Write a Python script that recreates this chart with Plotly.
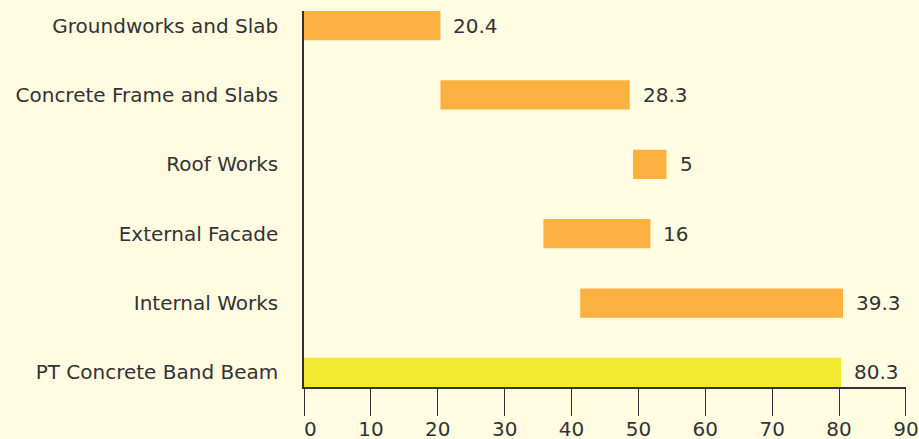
import plotly.graph_objects as go

categories = ["Groundworks and Slab", "Concrete Frame and Slabs", "Roof Works",
              "External Facade", "Internal Works", "PT Concrete Band Beam"]
durations = [20.4, 28.3, 5, 16, 39.3, 80.3]
starts = [0, 20.4, 49.2, 35.8, 41.3, 0]
colors = ["#FBB040", "#FBB040", "#FBB040", "#FBB040", "#FBB040", "#F3EA2F"]
x_ticks = [0, 10, 20, 30, 40, 50, 60, 70, 80, 90]
x_tick_labels = ["\u00a0\u00a00", "10", "20", "30", "40", "50", "60", "70", "80", "90"]

FONT = "DejaVu Sans"
TXT = "#333333"
FS = 20

fig = go.Figure(go.Bar(
    y=categories, x=durations, base=starts, orientation="h",
    marker=dict(color=colors, line=dict(width=0)), width=0.42,
    hoverinfo="skip",
))

for c, s, d in zip(categories, starts, durations):
    fig.add_annotation(x=s + d, y=c, text=f"{d:g}", showarrow=False,
                       xanchor="left", xshift=11,
                       font=dict(family=FONT, size=FS, color=TXT))

fig.update_layout(
    width=919, height=439,
    margin=dict(l=304, r=13, t=11, b=52),
    paper_bgcolor="#FFFCE2", plot_bgcolor="#FFFCE2",
    showlegend=False,
)
fig.update_xaxes(range=[0, 90.01], tickvals=x_ticks, ticktext=x_tick_labels,
                 showgrid=False, zeroline=False, automargin=False,
                 showline=True, linecolor=TXT, linewidth=1.5,
                 ticks="outside", ticklen=27, tickwidth=1.2, tickcolor=TXT,
                 ticklabelstandoff=-4,
                 tickfont=dict(family=FONT, size=FS, color=TXT))
fig.update_yaxes(categoryorder="array", categoryarray=categories,
                 range=[5.21, -0.21], showgrid=False, zeroline=False,
                 automargin=False,
                 showline=True, linecolor=TXT, linewidth=1.5,
                 ticks="outside", ticklen=20, tickcolor="rgba(0,0,0,0)",
                 tickfont=dict(family=FONT, size=FS, color=TXT))

fig.write_html("out.html", config={"displayModeBar": False},
               post_script="document.body.style.margin='0';document.body.style.overflow='hidden';document.body.style.background='#FFFCE2';")
